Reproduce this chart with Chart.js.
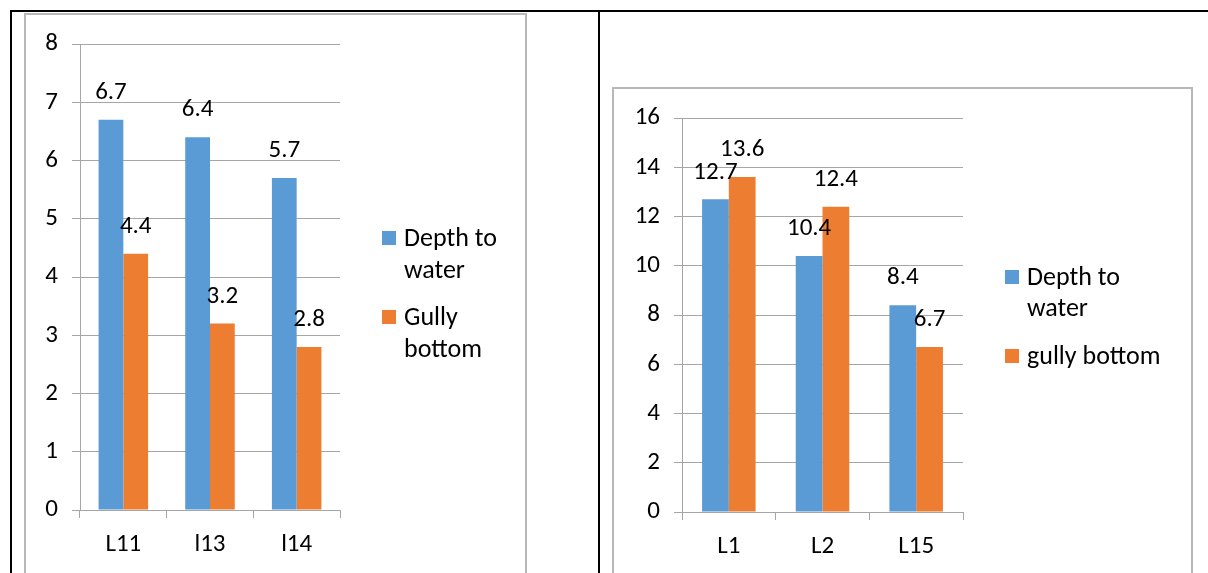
<!DOCTYPE html>
<html>
<head>
<meta charset="utf-8">
<script src="https://cdn.jsdelivr.net/npm/chart.js@4"></script>
<style>
  html, body { margin: 0; padding: 0; background: #fff; width: 1208px; height: 573px; overflow: hidden; }
  .rule { position: absolute; background: #000; }
  .box { position: absolute; border: 2px solid #b8b8b8; box-sizing: border-box; }
  canvas { position: absolute; }
</style>
</head>
<body>
<div class="rule" style="left:10px;top:10px;width:1198px;height:2px"></div>
<div class="rule" style="left:10px;top:10px;width:2px;height:563px"></div>
<div class="rule" style="left:598px;top:10px;width:2px;height:563px"></div>
<div class="box" style="left:24px;top:13px;width:503px;height:590px"></div>
<div class="box" style="left:612px;top:87px;width:581px;height:520px"></div>
<canvas id="leftChart" style="left:26px;top:15px" width="498" height="558"></canvas>
<canvas id="rightChart" style="left:614px;top:89px" width="577" height="484"></canvas>
<script>
// Left panel: sites L11, l13, l14
const leftCategories = ['L11', 'l13', 'l14'];
const leftDepthToWater = [6.7, 6.4, 5.7];
const leftGullyBottom = [4.4, 3.2, 2.8];
const leftLegend = [['Depth to', 'water'], ['Gully', 'bottom']];
const leftAxisMax = 8;
const leftAxisStep = 1;

// Right panel: sites L1, L2, L15
const rightCategories = ['L1', 'L2', 'L15'];
const rightDepthToWater = [12.7, 10.4, 8.4];
const rightGullyBottom = [13.6, 12.4, 6.7];
const rightLegend = [['Depth to', 'water'], ['gully bottom']];
const rightAxisMax = 16;
const rightAxisStep = 2;

const BLUE = '#5b9bd5';
const ORANGE = '#ed7d31';
const GRID = '#a6a6a6';
const FONT = 'Carlito, Lato, sans-serif';
const FONT_SIZE = 25;
const LEGEND_FONT_SIZE = 26;

// Value printed above every bar
const valueLabels = {
  id: 'valueLabels',
  afterDatasetsDraw(chart, args, opts) {
    const ctx = chart.ctx;
    ctx.save();
    ctx.font = FONT_SIZE + 'px ' + FONT;
    ctx.fillStyle = '#000';
    ctx.textAlign = 'center';
    ctx.textBaseline = 'middle';
    chart.data.datasets.forEach((ds, i) => {
      chart.getDatasetMeta(i).data.forEach((bar, j) => {
        ctx.fillText(ds.data[j].toFixed(1), bar.x, bar.y - opts.offset);
      });
    });
    ctx.restore();
  }
};

// Legend to the right of the plot, with wrapped entries
const sideLegend = {
  id: 'sideLegend',
  afterDraw(chart, args, opts) {
    const ctx = chart.ctx;
    const area = chart.chartArea;
    ctx.save();
    ctx.font = LEGEND_FONT_SIZE + 'px ' + FONT;
    ctx.textAlign = 'left';
    ctx.textBaseline = 'alphabetic';
    const x = area.right + opts.gap;
    opts.entries.forEach((lines, i) => {
      const base = opts.baselines[i];
      ctx.fillStyle = chart.data.datasets[i].backgroundColor;
      ctx.fillRect(x, base - 15, 14, 14);
      ctx.fillStyle = '#000';
      lines.forEach((line, k) => {
        ctx.fillText(line, x + 22, base + k * opts.lineHeight);
      });
    });
    ctx.restore();
  }
};

function makeChart(id, cats, depth, gully, legend, yMax, yStep, box, legendOpts) {
  const ctx = document.getElementById(id);
  return new Chart(ctx, {
    type: 'bar',
    data: {
      labels: cats,
      datasets: [
        { label: legend[0].join(' '), data: depth, backgroundColor: BLUE },
        { label: legend[1].join(' '), data: gully, backgroundColor: ORANGE }
      ]
    },
    options: {
      responsive: false,
      animation: false,
      events: [],
      layout: { padding: { top: box.top, right: box.right, left: 0, bottom: 0 } },
      datasets: { bar: { categoryPercentage: 2 / 3.5, barPercentage: 1.0 } },
      plugins: {
        legend: { display: false },
        tooltip: { enabled: false },
        valueLabels: { offset: 27 },
        sideLegend: legendOpts
      },
      scales: {
        x: {
          grid: { display: true, drawOnChartArea: false, drawTicks: true, tickLength: 8, color: GRID, offset: true },
          border: { display: true, color: GRID },
          ticks: { color: '#000', font: { family: FONT, size: FONT_SIZE }, padding: 12 },
          afterFit(scale) { scale.height = box.xHeight; }
        },
        y: {
          min: 0,
          max: yMax,
          ticks: { stepSize: yStep, color: '#000', font: { family: FONT, size: FONT_SIZE }, padding: 14 },
          grid: { color: GRID, tickLength: 8, drawTicks: true },
          border: { display: true, color: GRID },
          afterFit(scale) { scale.width = box.yWidth; }
        }
      }
    },
    plugins: [valueLabels, sideLegend]
  });
}

makeChart('leftChart', leftCategories, leftDepthToWater, leftGullyBottom, leftLegend,
  leftAxisMax, leftAxisStep,
  { top: 27, right: 184, yWidth: 54, xHeight: 63 },
  { entries: leftLegend, gap: 42, baselines: [231, 310], lineHeight: 32 });

makeChart('rightChart', rightCategories, rightDepthToWater, rightGullyBottom, rightLegend,
  rightAxisMax, rightAxisStep,
  { top: 29, right: 228, yWidth: 68, xHeight: 61 },
  { entries: rightLegend, gap: 42, baselines: [196, 275], lineHeight: 31 });
</script>
</body>
</html>
